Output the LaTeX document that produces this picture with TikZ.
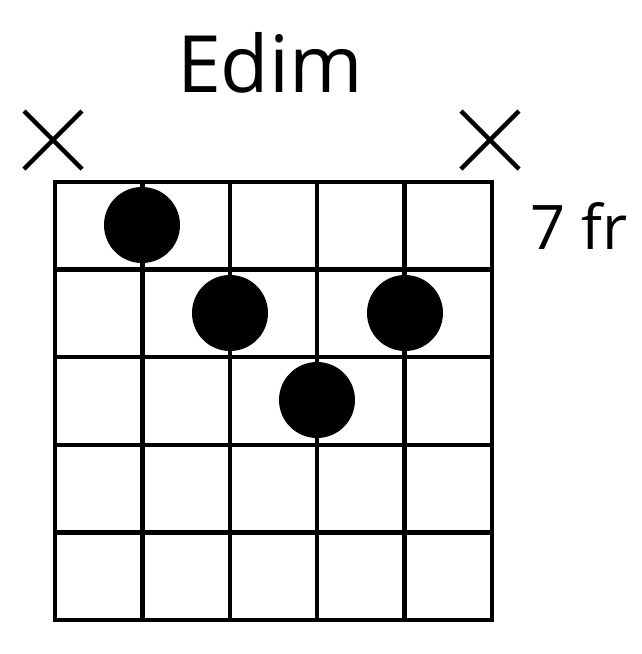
\documentclass[tikz,border=0pt]{standalone}
\usepackage{fontspec}
\setmainfont{Open Sans}
\usepackage{tikz}
\usetikzlibrary{positioning,calc}

\begin{document}
\begin{tikzpicture}[
    x=0.02cm, y=-0.02cm,
    grid/.style={black, line width=4.5*0.02cm, line cap=rect},
    mute/.style={black, line width=4.5*0.02cm},
    fingerdot/.style={fill=black},
    chordname/.style={font=\fontsize{45}{50}\selectfont, inner sep=0pt, anchor=base},
    fretlabel/.style={font=\fontsize{35}{40}\selectfont, inner sep=0pt, anchor=base},
]
\useasboundingbox (0,0) rectangle (642,654);

% =====================================================================
% Chord name and starting fret
% =====================================================================
\node[chordname] (title) at (270,92) {Edim};
\node[fretlabel] (fret) at (579,249) {7 fr};

% =====================================================================
% Fretboard: 6 strings, 5 frets
% =====================================================================
\foreach \i in {0,...,5} {
    \pgfmathsetmacro{\xs}{55+87.4*\i}
    \draw[grid] (\xs,182) -- (\xs,620);
}
\foreach \j in {0,...,5} {
    \pgfmathsetmacro{\yf}{182+87.6*\j}
    \draw[grid] (55,\yf) -- (492,\yf);
}

% Muted strings (6th and 1st)
\foreach \xm in {53,490} {
    \draw[mute] (\xm-29,111) -- (\xm+29,169);
    \draw[mute] (\xm-29,169) -- (\xm+29,111);
}

% Finger positions
\foreach \xd/\yd in {142/225, 230/313, 405/313, 317/400} {
    \fill[fingerdot] (\xd,\yd) circle (38);
}
\end{tikzpicture}
\end{document}
